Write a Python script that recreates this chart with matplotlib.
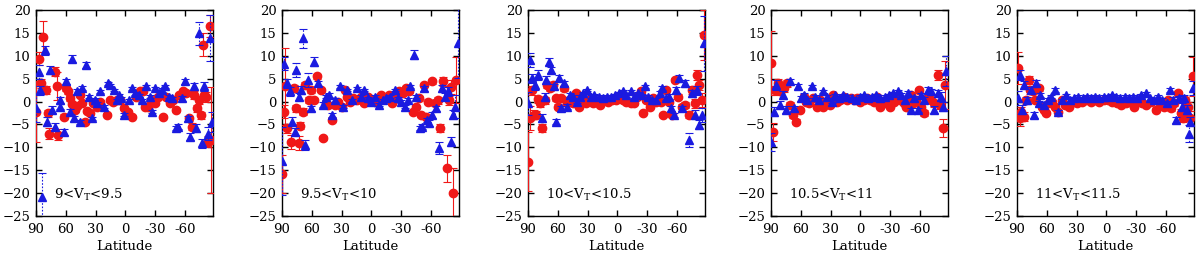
import matplotlib
matplotlib.use("Agg")
import matplotlib.pyplot as plt
import matplotlib.transforms as mtransforms

# (latitude, value, error) per series per magnitude bin
P1_RED = [(90,-2.2,6.7),(87.3,9.4,1.5),(85.3,4.0,1.0),(82.6,14.2,3.3),(80,2.5,0.8),(78.3,-2.6,0.8),
          (76.6,-7.0,1.2),(71,6.5,1.0),(68.6,3.4,3.0),(67.6,-7.3,1.2),(62,-3.3,0.6),(60.3,2.9,0.6),
          (57.6,2.2,0.5),(56,0.7,0.5),(54,-0.5,0.5),(50.7,-1.8,0.5),(49,-1.0,0.5),(45.6,1.4,0.4),
          (44,-0.3,0.4),(40.6,-4.4,0.4),(38.3,-2.0,0.4),(35.6,-2.6,0.4),(32.3,-0.4,0.4),(29,-1.1,0.3),
          (25.6,0.0,0.3),(19,-2.9,0.3),(15.6,0.3,0.3),(12.3,0.0,0.3),(9,0.3,0.3),(5.6,0.3,0.3),
          (1.6,-1.5,0.3),(-2.7,-2.2,0.3),(-7,-3.3,0.3),(-11,1.0,0.3),(-14.3,2.2,0.3),(-17.6,2.2,0.3),
          (-19.3,-1.1,0.3),(-22.6,-1.1,0.3),(-26,0.3,0.3),(-29.3,-0.4,0.3),(-32.6,1.0,0.4),(-37.6,-3.3,0.4),
          (-41,1.0,0.4),(-44.3,-0.4,0.4),(-47.6,0.3,0.4),(-51,-1.8,0.5),(-54.3,1.4,0.5),(-57.6,2.2,0.5),
          (-61,1.8,0.6),(-64.3,-3.7,0.6),(-67,-5.5,0.8),(-69.3,1.4,0.8),(-71.6,-1.5,0.8),(-74.3,0.3,0.8),
          (-76,-3.0,0.8),(-78.3,12.4,2.5),(-79.3,1.4,1.0),(-81,1.0,1.0),(-82.6,-8.8,1.2),(-85,16.4,2.4),
          (-86,-8.4,11.6)]
P1_BLUE = [(90,-1.5,3.0),(87.3,6.5,1.5),(85.6,2.5,1.0),(84,-20.8,5.3),(81.3,11.2,1.0),(79,-4.4,1.0),
           (76.3,6.9,0.8),(74,-1.8,0.8),(70.6,-5.5,0.8),(66.2,0.3,0.6),(65.6,-1.1,0.6),(62.2,-6.6,0.6),
           (59.9,4.4,0.6),(55.5,-2.2,0.5),(53.8,9.4,0.8),(51.5,-3.7,0.5),(48.8,2.2,0.5),(45.5,-4.4,0.4),
           (43.8,2.9,0.4),(39.4,8.0,0.6),(37.1,1.1,0.4),(33.8,-3.7,0.4),(30.4,0.3,0.4),(28.7,-0.4,0.3),
           (25.4,2.2,0.3),(22,-1.1,0.3),(18,4.0,0.3),(15.3,3.6,0.3),(12,2.5,0.3),(8.6,0.3,0.3),
           (7,1.4,0.3),(4.6,0.7,0.3),(1.3,-2.9,0.3),(-4,0.3,0.3),(-6.4,2.9,0.3),(-9.8,1.8,0.3),
           (-13.1,1.4,0.3),(-16.5,0.3,0.3),(-20.8,3.3,0.3),(-24.2,1.1,0.3),(-26.5,-2.2,0.3),(-29.9,2.9,0.3),
           (-33.2,1.8,0.4),(-36.5,2.5,0.4),(-39.9,3.3,0.4),(-43.3,1.1,0.4),(-46.6,0.7,0.4),(-50.9,-5.8,0.5),
           (-53.3,-5.5,0.5),(-56.6,0.7,0.5),(-60,4.4,0.6),(-63.3,-3.7,0.6),(-65,-7.7,0.8),(-68.4,3.3,0.8),
           (-71,-5.8,0.8),(-74.4,14.9,2.5),(-76.7,-9.1,1.0),(-79,3.3,1.0),(-83.4,-7.0,1.5),(-85,13.8,5.0),
           (-87,-4.4,2.2)]

P2_RED = [(90,-15.8,4.2),(88.3,-2.2,1.5),(86.7,3.3,8.5),(85,-5.8,1.0),(81,-8.8,1.5),(77.7,2.9,0.8),
          (75.7,-1.5,0.8),(73.3,-9.1,1.5),(71.7,-5.3,0.8),(69,-2.2,0.8),(66.7,3.6,0.6),(63.3,0.3,0.6),
          (61,2.5,0.6),(58.3,0.3,0.5),(55,5.5,0.5),(51,2.5,0.5),(48.3,-8.0,0.5),(45.7,-0.4,0.4),
          (43.3,-0.7,0.4),(40,-4.0,0.4),(36.7,-0.7,0.4),(33.3,0.0,0.4),(30,-1.1,0.3),(26.7,2.5,0.3),
          (24.3,1.1,0.3),(21.7,0.0,0.3),(18.3,0.7,0.3),(14.3,0.3,0.3),(11,1.1,0.3),(7.7,-0.4,0.3),
          (3.3,1.1,0.3),(0,0.3,0.3),(-3.3,0.0,0.3),(-6.7,0.7,0.3),(-10,1.4,0.3),(-14.3,0.7,0.3),
          (-17.7,1.4,0.3),(-21,-0.4,0.3),(-24.3,0.7,0.3),(-27.7,2.2,0.3),(-31.7,1.8,0.4),(-35,2.9,0.4),
          (-37.7,2.2,0.4),(-41.7,-2.2,0.4),(-45,-1.1,0.4),(-47.7,0.7,0.5),(-50,-2.9,0.5),(-52.3,3.6,0.5),
          (-55,-3.3,0.5),(-56.7,0.0,0.5),(-61,4.4,0.6),(-64.3,-0.4,0.6),(-66.7,0.3,0.8),(-69,-5.8,0.8),
          (-72.3,4.4,1.0),(-75.7,-14.6,2.9),(-77.7,0.3,1.0),(-80,3.1,1.5),(-82.3,-20.0,5.5),(-85,4.7,5.0)]
P2_BLUE = [(90,-13.0,7.5),(87.7,8.3,1.5),(85,4.0,1.0),(82.3,2.2,1.0),(80,-4.4,1.0),(76.7,-6.6,0.8),
           (75.7,6.9,1.5),(73.3,1.1,0.8),(71,2.5,0.8),(69,13.8,2.0),(66.7,-9.5,1.0),(64,4.7,1.5),
           (61,-1.5,0.6),(57.7,8.7,1.0),(53.3,4.0,0.5),(49,-0.7,0.5),(45.7,1.1,0.4),(42.3,1.4,0.4),
           (40,-2.9,0.4),(36.7,0.3,0.4),(31.7,3.3,0.4),(28.3,-1.1,0.3),(25,2.5,0.3),(20,0.3,0.3),
           (15,2.9,0.3),(11,1.1,0.3),(7.7,2.5,0.3),(3.3,0.7,0.3),(0,0.0,0.3),(-3.3,1.1,0.3),
           (-7.7,-0.7,0.3),(-11.7,0.3,0.3),(-15,0.7,0.3),(-19,1.1,0.3),(-23.3,2.5,0.3),(-26.7,0.7,0.3),
           (-30,0.0,0.3),(-33.3,-1.1,0.4),(-36.7,0.3,0.4),(-39,3.3,0.4),(-42.3,10.2,1.0),(-45,1.1,0.4),
           (-48.3,-5.8,0.5),(-51,-5.5,0.5),(-53.3,2.9,0.5),(-55.7,-4.0,0.5),(-58.3,-4.7,0.6),(-61,-2.9,0.6),
           (-65,-1.5,0.6),(-68.3,-10.2,1.3),(-71,2.9,0.8),(-74.3,1.1,0.8),(-76.7,2.2,1.0),(-80,-8.8,1.0),
           (-82.3,-2.9,1.0),(-84.3,-1.1,2.5),(-86.7,12.7,7.5)]

P3_RED = [(90,-13.1,6.5),(88.3,-3.6,2.6),(85.7,2.5,1.0),(84.3,-2.9,1.0),(81.7,-2.9,0.8),(80,0.5,0.8),
          (78.3,-0.4,0.8),(76,-5.8,0.8),(73.3,0.3,0.8),(71,3.6,0.6),(68.3,2.9,0.6),(65,3.6,0.6),
          (61.7,0.7,0.5),(60,-1.1,0.5),(56.7,0.7,0.5),(53.3,2.9,0.5),(51,-0.4,0.4),(48.3,0.3,0.4),
          (45,-0.4,0.4),(41.7,1.8,0.4),(38.3,-1.1,0.3),(35,0.3,0.3),(31.7,-0.4,0.3),(28.3,0.3,0.3),
          (25,-0.4,0.3),(21.7,0.0,0.3),(17.7,-0.7,0.3),(14.3,0.3,0.3),(10,0.0,0.3),(5.7,0.3,0.3),
          (1.7,0.3,0.3),(-2.3,0.7,0.3),(-5.7,0.3,0.3),(-9,0.0,0.3),(-13.3,-0.4,0.3),(-16.7,-0.4,0.3),
          (-20,1.1,0.3),(-23.3,2.2,0.3),(-25.7,-2.5,0.3),(-29,0.3,0.3),(-32.3,-1.1,0.3),(-35.7,0.7,0.3),
          (-39,0.0,0.4),(-43.3,0.0,0.4),(-45.7,-2.9,0.4),(-48.3,2.5,0.4),(-51.7,0.0,0.5),(-55,-2.9,0.5),
          (-58.3,4.7,0.5),(-61,1.1,0.6),(-65,-1.1,0.6),(-68.3,-0.7,0.6),(-71.7,-2.9,0.8),(-75,2.5,0.8),
          (-77.7,-0.4,1.0),(-80,5.8,1.0),(-82.3,3.6,1.0),(-85,0.3,1.5),(-87,14.6,5.5)]
P3_BLUE = [(90,-0.4,2.5),(88.3,9.1,1.5),(85.7,5.1,1.0),(83.3,3.6,1.0),(80,5.8,1.0),(75.7,-3.6,0.8),
           (73.3,1.1,0.8),(71.7,4.7,0.8),(69,8.7,0.8),(66.7,6.9,0.6),(64.3,3.3,0.6),(62.3,-4.4,0.6),
           (59,5.1,0.6),(56.7,-1.5,0.5),(53.3,4.0,0.5),(51,-1.1,0.5),(47.7,1.4,0.4),(44.3,1.1,0.4),
           (41,0.0,0.4),(37.7,1.1,0.4),(34.3,1.8,0.3),(31,2.5,0.3),(26.7,1.1,0.3),(23.3,1.4,0.3),
           (19,1.1,0.3),(15,0.7,0.3),(11,1.1,0.3),(6.7,1.1,0.3),(2.3,1.4,0.3),(-1.7,1.8,0.3),
           (-5.7,2.2,0.3),(-9,1.4,0.3),(-13.3,2.2,0.3),(-16.7,1.1,0.3),(-21,1.8,0.3),(-24.3,1.4,0.3),
           (-27.7,3.3,0.3),(-31,1.1,0.3),(-35,0.3,0.3),(-39,0.3,0.4),(-42.3,1.8,0.4),(-45,2.9,0.4),
           (-48.3,0.7,0.4),(-51.7,1.1,0.5),(-54.3,-1.5,0.5),(-56.7,-2.9,0.5),(-59,2.5,0.6),(-61.7,5.1,0.8),
           (-65,-1.5,0.6),(-68.3,4.0,0.8),(-72.3,-8.4,1.5),(-75,1.8,0.8),(-77.7,-2.9,1.0),(-80,2.5,1.0),
           (-82.3,-5.1,1.0),(-85,-2.9,1.5),(-87,12.7,6.0)]

P4_RED = [(90,8.5,7.0),(88,-6.6,2.0),(85.7,2.5,1.0),(83.3,4.0,1.0),(80.7,2.2,0.8),(77.3,2.9,0.8),
          (74,4.0,0.8),(70.7,-0.7,0.6),(68,-2.9,0.6),(64.7,-4.4,0.6),(60.7,-1.8,0.5),(57.3,1.1,0.5),
          (54.7,0.0,0.5),(51.3,-0.4,0.4),(47.3,0.7,0.4),(44,-1.1,0.4),(40.7,0.3,0.3),(37.3,-1.1,0.3),
          (34,-0.4,0.3),(30.7,-0.7,0.3),(27.3,1.4,0.3),(24,0.0,0.3),(20.7,0.3,0.3),(16.7,1.1,0.3),
          (13.3,0.3,0.3),(10,0.7,0.3),(6.7,0.3,0.3),(3.3,0.7,0.3),(0,0.0,0.3),(-3.3,0.3,0.3),
          (-6.7,0.7,0.3),(-10,0.3,0.3),(-13.3,0.0,0.3),(-16.7,1.1,0.3),(-20,-1.1,0.3),(-23.3,-0.4,0.3),
          (-26.7,0.3,0.3),(-30,-1.1,0.3),(-33.3,0.0,0.3),(-36.7,1.1,0.3),(-40,0.3,0.3),(-43.3,-0.4,0.4),
          (-46,-1.1,0.4),(-48.7,0.7,0.4),(-51,1.4,0.4),(-53.3,-0.4,0.4),(-56,0.3,0.5),(-58.7,2.5,0.5),
          (-61,-1.1,0.5),(-64.3,-2.5,0.6),(-67.7,1.1,0.6),(-71,0.3,0.6),(-74.3,-0.4,0.8),(-77.7,5.8,1.2),
          (-80.3,-0.7,1.0),(-82.7,-5.8,2.0),(-85.3,3.6,5.2)]
P4_BLUE = [(90,-8.8,2.0),(87.3,-2.2,1.0),(84.7,3.6,1.0),(81.3,-0.7,0.8),(78,1.4,0.8),(74.7,-1.8,0.8),
           (70.7,4.4,0.6),(67.3,-1.5,0.6),(63.3,3.3,0.6),(60,0.7,0.5),(56.7,1.4,0.5),(53.3,0.3,0.5),
           (49,3.3,0.4),(45.7,1.1,0.4),(41.3,0.3,0.4),(37.3,2.2,0.3),(34,1.1,0.3),(29,0.0,0.3),
           (25.7,1.4,0.3),(21.3,0.7,0.3),(17.3,1.4,0.3),(13.3,1.1,0.3),(9,0.7,0.3),(4.7,0.3,0.3),
           (0.7,1.1,0.3),(-3.3,1.4,0.3),(-7.7,0.7,0.3),(-12,1.1,0.3),(-16,1.4,0.3),(-20,0.7,0.3),
           (-24.3,1.1,0.3),(-28.7,1.4,0.3),(-32.7,1.8,0.3),(-37.7,2.2,0.3),(-41,1.4,0.4),(-44.3,0.3,0.4),
           (-47.7,1.8,0.4),(-51,-1.8,0.4),(-54.3,0.7,0.5),(-57.7,-1.8,0.5),(-61,1.4,0.5),(-64.3,0.3,0.6),
           (-67.7,2.5,0.6),(-71,2.2,0.6),(-74.3,-1.8,0.8),(-77.7,1.8,0.8),(-81,1.1,1.0),(-83.3,-1.1,1.0),
           (-86,6.6,3.3)]

P5_RED = [(89.3,7.3,3.5),(87.3,-3.6,1.8),(85.7,-2.2,1.0),(83.3,-3.3,1.0),(80.7,0.3,0.8),(78.3,4.7,0.8),
          (76.7,2.5,0.8),(74,2.2,0.6),(71.7,0.3,0.6),(68.3,2.9,0.6),(65,-1.1,0.5),(62.7,-1.8,0.5),
          (60.7,-2.5,0.5),(58.3,-0.4,0.5),(55,0.0,0.4),(51.7,-1.1,0.4),(48.3,-2.2,0.4),(45,0.3,0.3),
          (41.7,-0.7,0.3),(37.3,-1.1,0.3),(33.3,0.0,0.3),(29.3,-0.4,0.3),(25,0.0,0.3),(20.7,0.3,0.3),
          (16,0.0,0.3),(11.7,0.3,0.3),(7.3,0.0,0.3),(2.7,0.3,0.3),(-1.7,0.3,0.3),(-6,0.0,0.3),
          (-10.7,-0.4,0.3),(-15,-0.7,0.3),(-19.3,-0.4,0.3),(-24,0.0,0.3),(-27.3,-1.1,0.3),(-31.7,0.3,0.3),
          (-36,-0.4,0.3),(-40,-0.7,0.3),(-45,0.0,0.4),(-50,-1.8,0.4),(-54,-0.4,0.4),(-58.3,-1.1,0.5),
          (-61.7,0.3,0.5),(-65,-1.5,0.5),(-68.3,-0.4,0.6),(-71.7,1.8,0.6),(-75,-2.5,0.8),(-77.3,-3.6,0.8),
          (-79.3,0.3,0.8),(-81.7,-1.1,1.0),(-84,-3.6,1.5),(-86.7,5.5,4.3)]
P5_BLUE = [(89.3,0.7,1.5),(86.7,5.8,1.0),(85,-1.8,1.0),(82.7,3.6,0.8),(80,0.3,0.8),(76,2.5,0.6),
           (73.3,-2.9,0.6),(70.7,4.0,0.6),(68.3,-0.4,0.5),(66.7,1.4,0.5),(63.3,-0.7,0.5),(59.3,0.3,0.4),
           (56,1.1,0.4),(51.7,2.5,0.4),(48.3,-2.2,0.4),(45,0.3,0.3),(40.7,1.4,0.3),(36.7,0.3,0.3),
           (32.7,0.7,0.3),(28.3,1.1,0.3),(24,0.7,0.3),(20,1.1,0.3),(16,0.7,0.3),(11.7,1.1,0.3),
           (7.3,0.7,0.3),(2.7,1.1,0.3),(-1.7,1.1,0.3),(-6,1.4,0.3),(-10,1.1,0.3),(-14,0.7,0.3),
           (-18.3,1.1,0.3),(-22.7,0.7,0.3),(-26.7,1.1,0.3),(-30.7,0.7,0.3),(-35,1.4,0.3),(-39.3,1.8,0.3),
           (-43.3,0.7,0.4),(-47.3,0.3,0.4),(-51.7,1.1,0.4),(-56,0.3,0.5),(-60.7,-0.4,0.5),(-64,2.5,0.5),
           (-66.7,0.3,0.6),(-70,-4.0,0.6),(-73.3,0.7,0.6),(-76,-1.1,0.8),(-78.3,0.7,0.8),(-80.7,-1.8,1.0),
           (-82.7,-7.0,1.8),(-84,-4.4,1.0),(-86.7,2.9,1.5)]

LABELS = ["9<V$_\\mathrm{T}$<9.5", "9.5<V$_\\mathrm{T}$<10", "10<V$_\\mathrm{T}$<10.5",
          "10.5<V$_\\mathrm{T}$<11", "11<V$_\\mathrm{T}$<11.5"]
PANELS = [(P1_RED, P1_BLUE), (P2_RED, P2_BLUE), (P3_RED, P3_BLUE), (P4_RED, P4_BLUE), (P5_RED, P5_BLUE)]
YTICKS = [-25, -20, -15, -10, -5, 0, 5, 10, 15, 20]
XTICKS = [90, 60, 30, 0, -30, -60]
XTICKLABELS = ["90", "60", "30", "0", "-30", "-60"]

plt.rcParams['font.family'] = ['DejaVu Serif']
plt.rcParams['mathtext.fontset'] = 'dejavuserif'

fig = plt.figure(figsize=(12, 2.59), dpi=100)
lefts = [36, 282, 528, 771, 1017]
W, H = 1200.0, 259.0
RED = '#f01818'
BLUE = '#1a1ae0'

for i, ((red, blue), lab) in enumerate(zip(PANELS, LABELS)):
    ax = fig.add_axes([lefts[i] / W, 1 - 216 / H, 177 / W, 206 / H])
    rx = [p[0] for p in red]; ry = [p[1] for p in red]; re = [p[2] for p in red]
    bx = [p[0] for p in blue]; by = [p[1] for p in blue]; be = [p[2] for p in blue]
    ax.errorbar(rx, ry, yerr=re, fmt='o', color=RED, ms=6.0, ecolor=RED,
                elinewidth=0.8, capsize=2.8, capthick=0.8, zorder=3)
    eb = ax.errorbar(bx, by, yerr=be, fmt='^', color=BLUE, ms=6.0, ecolor=BLUE,
                     elinewidth=0.8, capsize=2.8, capthick=0.8, zorder=4)
    for lc in eb[2]:
        lc.set_linestyle((0, (1.5, 1.5)))
    ax.set_xlim(90, -88)
    ax.set_ylim(-25, 20)
    ax.set_yticks(YTICKS)
    ax.set_xticks(XTICKS)
    ax.set_xticklabels(XTICKLABELS)
    ax.tick_params(direction='in', length=4.5, width=1, top=True, right=True,
                   labelsize=9.5, pad=4)
    ax.tick_params(axis='x', pad=5)
    for s in ax.spines.values():
        s.set_linewidth(1.0)
    ax.set_xlabel("Latitude", fontsize=9.5, labelpad=3)
    trans = mtransforms.blended_transform_factory(ax.transAxes, ax.transData)
    ax.text(0.1, -20.3, lab, transform=trans, fontsize=9.5, va='center', ha='left')

fig.savefig("out.png", dpi=100)
